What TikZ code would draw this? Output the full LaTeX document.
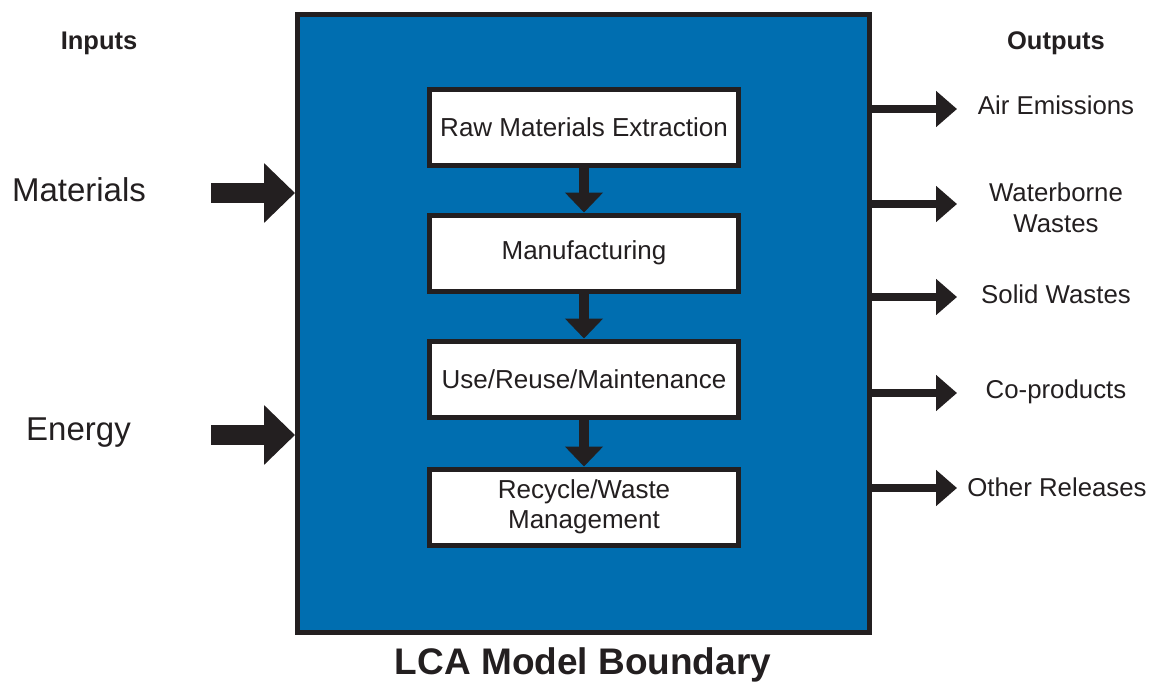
\documentclass[tikz,border=0pt]{standalone}
\usepackage{fontspec}
\setmainfont{Liberation Sans}
\usepackage{tikz}
\usetikzlibrary{arrows.meta}
\usepackage{xcolor}
\definecolor{lcablue}{RGB}{0,110,176}
\definecolor{lcadark}{RGB}{35,31,32}

\begin{document}
\begin{tikzpicture}[x=1pt, y=-1pt,
    stage/.style={draw=lcadark, line width=5pt, fill=white, text=lcadark, minimum width=309pt, minimum height=76pt, align=center, font=\fontsize{26}{30}\selectfont},
    inarrow/.style={draw=lcadark, line width=20pt, -{Triangle[length=31pt,width=58pt]}},
    outarrow/.style={draw=lcadark, line width=8pt, -{Triangle[length=21pt,width=35pt]}},
    downarrow/.style={draw=lcadark, line width=10pt, -{Triangle[length=20pt,width=37pt]}},
    outlabel/.style={text=lcadark, align=center, font=\fontsize{25.8}{31}\selectfont}]
    \useasboundingbox (0,0) rectangle (1151,683);
    % boundary box
    \node[draw=lcadark, line width=5pt, fill=lcablue, minimum width=572pt, minimum height=618pt] (lca) at (583.5,323.5) {};
    \node[text=lcadark, font=\fontsize{37}{40}\bfseries] (lcatitle) at (583,665) {LCA Model Boundary};
    % life cycle stages
    \node[stage] (raw) at (584,127) {Raw Materials Extraction};
    \node[stage] (manu) at (584,253) {Manufacturing};
    \node[stage] (use) at (584,379) {Use/Reuse/Maintenance};
    \node[stage] (recyc) at (584,507) {Recycle/Waste\\Management};
    \draw[downarrow] (raw) -- (manu);
    \draw[downarrow] (manu) -- (use);
    \draw[downarrow] (use) -- (recyc);
    % inputs
    \node[text=lcadark, font=\fontsize{25.5}{28}\bfseries] (inputs) at (99,43) {Inputs};
    \node[text=lcadark, font=\fontsize{33}{36}\selectfont] (mat) at (79,190) {Materials};
    \node[text=lcadark, font=\fontsize{33}{36}\selectfont] (energy) at (78.5,433) {Energy};
    \coordinate (matin) at (211,193);
    \coordinate (enin) at (211,435);
    \draw[inarrow] (matin) -- (lca.west |- matin);
    \draw[inarrow] (enin) -- (lca.west |- enin);
    % outputs
    \node[text=lcadark, font=\fontsize{25.5}{28}\bfseries] (outputs) at (1056,43) {Outputs};
    \node[outlabel] (air) at (1056,105) {Air Emissions};
    \node[outlabel] (water) at (1056,208) {Waterborne\\Wastes};
    \node[outlabel] (solid) at (1056,294) {Solid Wastes};
    \node[outlabel] (coprod) at (1056,392) {Co-products};
    \node[outlabel] (other) at (1057,487) {Other Releases};
    \coordinate (airend) at (957,109);
    \coordinate (waterend) at (957,204);
    \coordinate (solidend) at (957,297);
    \coordinate (coprodend) at (957,393);
    \coordinate (otherend) at (957,488);
    \foreach \o in {air,water,solid,coprod,other}
        \draw[outarrow] (lca.east |- \o end) -- (\o end);
\end{tikzpicture}
\end{document}
